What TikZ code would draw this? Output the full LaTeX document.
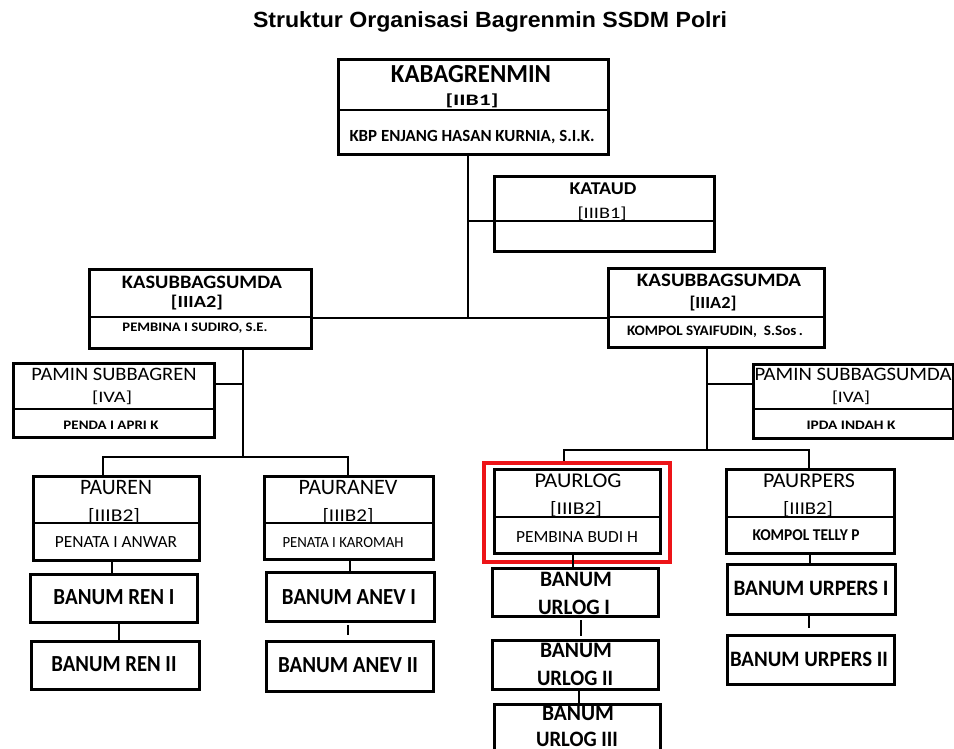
\documentclass[tikz,border=0pt]{standalone}
\usepackage{fontspec}
\usepackage{graphicx}
\setmainfont{Carlito}
\newfontfamily\titlefont{Liberation Sans}
\definecolor{hl}{RGB}{237,20,24}
\newcommand\tx[3]{\resizebox{#1pt}{\height}{\fontsize{#2pt}{#2pt}\selectfont #3}}
\begin{document}
\begin{tikzpicture}[x=1pt,y=-1pt,
  ln/.style={line width=2.6pt},
  box/.style={draw, line width=2.8pt, rectangle, inner sep=0pt, anchor=north west},
  lbl/.style={inner sep=0pt, anchor=center},
  hlbox/.style={draw=hl, line width=3.5pt, rectangle, inner sep=0pt, anchor=north west}]
\useasboundingbox (0,0) rectangle (954,749);
\clip (0,0) rectangle (954,749);
\fill[white] (0,0) rectangle (954,749);

% title
\node[lbl] (title) at (490,22) {\tx{474}{22}{\titlefont\bfseries Struktur Organisasi Bagrenmin SSDM Polri}};

% boxes
\node[box, minimum width=270pt, minimum height=95pt] (kab) at (337,58) {};
\node[box, minimum width=220pt, minimum height=75pt] (kat) at (493,175) {};
\node[box, minimum width=222pt, minimum height=79pt] (ksl) at (88,268) {};
\node[box, minimum width=216pt, minimum height=79pt] (ksr) at (607,267) {};
\node[box, minimum width=201pt, minimum height=74pt] (pml) at (12,362) {};
\node[box, minimum width=200pt, minimum height=74pt] (pmr) at (752,363) {};
\node[box, minimum width=166pt, minimum height=84pt] (pren) at (32,475) {};
\node[box, minimum width=169pt, minimum height=83pt] (panev) at (263,475) {};
\node[box, minimum width=166pt, minimum height=84pt] (plog) at (493,468) {};
\node[box, minimum width=168pt, minimum height=84pt] (pers) at (725,468) {};
\node[hlbox, minimum width=186pt, minimum height=99pt] (red) at (482,461) {};
\node[box, minimum width=167pt, minimum height=48pt] (ren1) at (29,573) {};
\node[box, minimum width=168pt, minimum height=48pt] (ren2) at (30,640) {};
\node[box, minimum width=168pt, minimum height=49pt] (anev1) at (265,571) {};
\node[box, minimum width=167pt, minimum height=50pt] (anev2) at (265,640) {};
\node[box, minimum width=166pt, minimum height=48pt] (ulog1) at (491,567) {};
\node[box, minimum width=166pt, minimum height=49pt] (ulog2) at (491,639) {};
\node[box, minimum width=166pt, minimum height=60pt] (ulog3) at (493,703) {};
\node[box, minimum width=168pt, minimum height=50pt] (upers1) at (726,563) {};
\node[box, minimum width=167pt, minimum height=49pt] (upers2) at (726,634) {};

% dividers
\draw[ln] (kab.west |- 0,110) -- (kab.east |- 0,110);
\draw[ln] (kat.west |- 0,221) -- (kat.east |- 0,221);
\draw[ln] (ksl.west |- 0,317) -- (ksl.east |- 0,317);
\draw[ln] (ksr.west |- 0,317) -- (ksr.east |- 0,317);
\draw[ln] (pml.west |- 0,409) -- (pml.east |- 0,409);
\draw[ln] (pmr.west |- 0,409) -- (pmr.east |- 0,409);
\draw[ln] (pren.west |- 0,523) -- (pren.east |- 0,523);
\draw[ln] (panev.west |- 0,523) -- (panev.east |- 0,523);
\draw[ln] (plog.west |- 0,517) -- (plog.east |- 0,517);
\draw[ln] (pers.west |- 0,517) -- (pers.east |- 0,517);

% connectors
\coordinate (sp) at (468,318);
\draw[ln] (kab.south -| sp) -- (sp);
\draw[ln] (sp |- 0,221) -- (kat.west |- 0,221);
\draw[ln] (ksl.east |- 0,318) -- (ksr.west |- 0,318);
\coordinate (ls) at (243,457);
\draw[ln] (ksl.south -| ls) -- (ls);
\draw[ln] (pml.east |- 0,384) -- (ls |- 0,384);
\draw[ln] (pren.north -| 103,0) -- (103,457) -- (348,457) -- (panev.north -| 348,0);
\coordinate (rs) at (707,450);
\draw[ln] (ksr.south -| rs) -- (rs);
\draw[ln] (rs |- 0,384) -- (pmr.west |- 0,384);
\draw[ln] (red.north -| 564,0) -- (564,450) -- (809,450) -- (pers.north -| 809,0);
\draw[ln] (pren.south -| 112,0) -- (ren1.north -| 112,0);
\draw[ln] (ren1.south -| 119,0) -- (ren2.north -| 119,0);
\draw[ln] (panev.south -| 350,0) -- (anev1.north -| 350,0);
\coordinate (a1) at (348,625); \coordinate (a2) at (348,635);
\draw[ln] (a1) -- (a2);
\draw[ln] (plog.south -| 573,0) -- (ulog1.north -| 573,0);
\coordinate (l1) at (581,620); \coordinate (l2) at (581,636);
\draw[ln] (l1) -- (l2);
\draw[ln] (ulog2.south -| 579,0) -- (ulog3.north -| 579,0);
\draw[ln] (pers.south -| 810,0) -- (upers1.north -| 810,0);
\coordinate (p1) at (809,615); \coordinate (p2) at (809,628);
\draw[ln] (p1) -- (p2);

% texts
\node[lbl] (t1) at (471,74) {\tx{160}{26}{\bfseries KABAGRENMIN}};
\node[lbl] (t2) at (472,101) {\tx{53}{16}{\bfseries [IIB1]}};
\node[lbl] (t3) at (472,137) {\tx{245}{17}{\bfseries KBP ENJANG HASAN KURNIA, S.I.K.}};

\node[lbl] (t4) at (603,189) {\tx{67}{18}{\bfseries KATAUD}};
\node[lbl] (t5) at (602,214) {\tx{49}{16}{[IIIB1]}};

\node[lbl] (t6) at (202,282) {\tx{160}{19}{\bfseries KASUBBAGSUMDA}};
\node[lbl] (t7) at (197,303) {\tx{52}{17}{\bfseries [IIIA2]}};
\node[lbl] (t8) at (195,328) {\tx{145}{13}{\bfseries PEMBINA I SUDIRO, S.E.}};

\node[lbl] (t9) at (719,280) {\tx{164}{19}{\bfseries KASUBBAGSUMDA}};
\node[lbl] (t10) at (713,304) {\tx{47}{17}{\bfseries [IIIA2]}};
\node[lbl] (t11) at (715,332) {\tx{176}{14.5}{\bfseries KOMPOL SYAIFUDIN,~ S.Sos\,.}};

\node[lbl] (t12) at (114,374) {\tx{165}{19}{PAMIN SUBBAGREN}};
\node[lbl] (t13) at (112,398) {\tx{40}{16}{[IVA]}};
\node[lbl] (t14) at (111,425) {\tx{95}{13}{\bfseries PENDA I APRI K}};

\node[lbl] (t15) at (853,374) {\tx{197}{19}{PAMIN SUBBAGSUMDA}};
\node[lbl] (t16) at (851,398) {\tx{38}{16}{[IVA]}};
\node[lbl] (t17) at (851,425) {\tx{89}{13}{\bfseries IPDA INDAH K}};

\node[lbl] (t18) at (116,488) {\tx{72}{22}{PAUREN}};
\node[lbl] (t19) at (114,516) {\tx{52}{18}{[IIIB2]}};
\node[lbl] (t20) at (116,542) {\tx{122}{17}{PENATA I ANWAR}};

\node[lbl] (t21) at (348,488) {\tx{99}{22}{PAURANEV}};
\node[lbl] (t22) at (348,516) {\tx{51}{18}{[IIIB2]}};
\node[lbl] (t23) at (343,543) {\tx{121}{15.5}{PENATA I KAROMAH}};

\node[lbl] (t24) at (578,481) {\tx{87}{21}{PAURLOG}};
\node[lbl] (t25) at (576,509) {\tx{52}{18}{[IIIB2]}};
\node[lbl] (t26) at (577,537) {\tx{122}{17}{PEMBINA BUDI H}};

\node[lbl] (t27) at (809,481) {\tx{92}{21}{PAURPERS}};
\node[lbl] (t28) at (808,509) {\tx{50}{18}{[IIIB2]}};
\node[lbl] (t29) at (806,535) {\tx{107}{16.5}{\bfseries KOMPOL TELLY P}};

\node[lbl] (t30) at (114,597) {\tx{121}{23}{\bfseries BANUM REN I}};
\node[lbl] (t31) at (114,664) {\tx{125}{23}{\bfseries BANUM REN II}};
\node[lbl] (t32) at (349,597) {\tx{134}{23}{\bfseries BANUM ANEV I}};
\node[lbl] (t33) at (348,665) {\tx{140}{23}{\bfseries BANUM ANEV II}};

\node[lbl] (t34) at (576,579) {\tx{72}{22}{\bfseries BANUM}};
\node[lbl] (t35) at (574,607) {\tx{72}{22}{\bfseries URLOG I}};
\node[lbl] (t36) at (576,650) {\tx{72}{22}{\bfseries BANUM}};
\node[lbl] (t37) at (575,678) {\tx{76}{22}{\bfseries URLOG II}};
\node[lbl] (t38) at (578,713) {\tx{72}{22}{\bfseries BANUM}};
\node[lbl] (t39) at (577,739) {\tx{82}{22}{\bfseries URLOG III}};

\node[lbl] (t40) at (811,588) {\tx{155}{22}{\bfseries BANUM URPERS I}};
\node[lbl] (t41) at (809,659) {\tx{158}{22}{\bfseries BANUM URPERS II}};
\end{tikzpicture}
\end{document}
